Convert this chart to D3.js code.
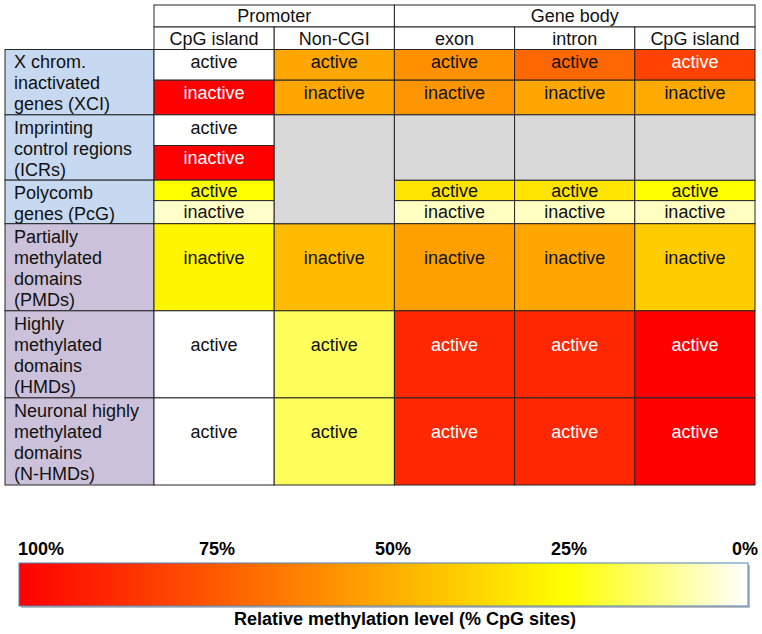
<!DOCTYPE html>
<html><head><meta charset="utf-8">
<script src="https://cdn.jsdelivr.net/npm/d3@7"></script>
<style>
body{margin:0;background:#fff}
svg{display:block}
text{font-family:"Liberation Sans",Arial,Helvetica,sans-serif}
</style>
</head><body>
<svg id="chart" width="762" height="634"></svg>
<script>
// ---------- data ----------
const columnLabels = ["CpG island","Non-CGI","exon","intron","CpG island"];
const groupLabels = ["Promoter","Gene body"];
const groupStart = [0,2];
const groupEnd = [1,4];

const regionLabels = [
  ["X chrom.","inactivated","genes (XCI)"],
  ["Imprinting","control regions","(ICRs)"],
  ["Polycomb","genes (PcG)"],
  ["Partially","methylated","domains","(PMDs)"],
  ["Highly","methylated","domains","(HMDs)"],
  ["Neuronal highly","methylated","domains","(N-HMDs)"]
];
const regionClass = ["gene","gene","gene","domain","domain","domain"];
const states = [
  ["active","inactive"],
  ["active","inactive"],
  ["active","inactive"],
  ["inactive"],
  ["active"],
  ["active"]
];
// relative methylation (% CpG sites) per region -> state -> column; null = not applicable
const methylation = [
  [[0,51,57,69,80],[100,51,56,51,50]],
  [[0,null,null,null,null],[100,null,null,null,null]],
  [[25,null,33,33,25],[5,null,6,6,6]],
  [[28,45,53,51,40]],
  [[0,16,88,88,100]],
  [[0,16,88,88,100]]
];
const legendTicks = [100,75,50,25,0];
const legendTickColors = ["#ff0000","#ff5200","#ffaa00","#ffff00","#ffffff"];
const legendTitle = "Relative methylation level (% CpG sites)";

// ---------- scales ----------
const svg = d3.select("#chart");
const color = d3.scaleLinear().domain(legendTicks).range(legendTickColors).interpolate(d3.interpolateRgb);
const x = d3.scaleBand().domain(d3.range(columnLabels.length)).range([154,755]);
const totalLines = d3.sum(regionLabels, d => d.length);
const y = d3.scaleLinear().domain([0,totalLines]).range([49.5,485]);
const lineColor = "#262626";
const gray = "#d9d9d9";
const regionFill = {gene:"#c6d9f1", domain:"#ccc1da"};

// build regions & subrows
let cum = 0;
const regions = regionLabels.map((lines,i) => {
  const r = {i, lines, y0:y(cum), y1:y(cum+lines.length)};
  cum += lines.length;
  return r;
});
const subrows = [];
regions.forEach(r => {
  const n = states[r.i].length;
  const h = r.y1 - r.y0;
  const split = n === 2 ? r.y0 + h*0.47 : r.y1;
  states[r.i].forEach((s,k) => {
    subrows.push({region:r.i, state:s, values:methylation[r.i][k],
      y0: k===0 ? r.y0 : split, y1: (k===0 && n===2) ? split : r.y1});
  });
});

// ---------- left labels ----------
const lab = svg.append("g");
lab.selectAll("rect").data(regions).join("rect")
  .attr("x",5).attr("width",x.range()[0]-5)
  .attr("y",d=>d.y0).attr("height",d=>d.y1-d.y0)
  .attr("fill",d=>regionFill[regionClass[d.i]])
  .attr("stroke",lineColor).attr("stroke-width",1);
regions.forEach(r => {
  lab.append("text").attr("x",14).attr("font-size",18).attr("fill","#111")
    .selectAll("tspan").data(r.lines).join("tspan")
    .attr("x",14).attr("y",(d,j)=>r.y0+12.5+j*21).attr("dy","0.35em").text(d=>d);
});

// ---------- cells ----------
const cells = [];
subrows.forEach(sr => sr.values.forEach((v,c) => { if (v !== null) cells.push({...sr, col:c, v}); }));
// merged gray blocks
const grays = [];
columnLabels.forEach((_,c) => {
  let cur = null;
  subrows.forEach(sr => {
    if (sr.values[c] === null) {
      if (cur && Math.abs(cur.y1 - sr.y0) < 0.01) cur.y1 = sr.y1;
      else { cur = {col:c, y0:sr.y0, y1:sr.y1}; grays.push(cur); }
    } else cur = null;
  });
});
const cg = svg.append("g");
cg.selectAll("rect.cell").data(cells).join("rect").attr("class","cell")
  .attr("x",d=>x(d.col)).attr("width",x.bandwidth())
  .attr("y",d=>d.y0).attr("height",d=>d.y1-d.y0)
  .attr("fill",d=>color(d.v)).attr("stroke",lineColor).attr("stroke-width",1);
cg.selectAll("rect.na").data(grays).join("rect").attr("class","na")
  .attr("x",d=>x(d.col)).attr("width",x.bandwidth())
  .attr("y",d=>d.y0).attr("height",d=>d.y1-d.y0)
  .attr("fill",gray).attr("stroke",lineColor).attr("stroke-width",1);
cg.selectAll("text").data(cells).join("text")
  .attr("x",d=>x(d.col)+x.bandwidth()/2)
  .attr("y",d=>{const h=d.y1-d.y0; return h>60 ? d.y0+h/2-10 : d.y0+Math.min(h/2,12.5);})
  .attr("dy","0.35em").attr("text-anchor","middle").attr("font-size",18)
  .attr("fill",d=>d.v>=75 ? "#ffffff" : "#111")
  .text(d=>d.state);

// ---------- headers ----------
const hg = svg.append("g");
hg.selectAll("rect.grp").data(groupLabels).join("rect").attr("class","grp")
  .attr("x",(d,i)=>x(groupStart[i])).attr("width",(d,i)=>x(groupEnd[i])+x.bandwidth()-x(groupStart[i]))
  .attr("y",5).attr("height",22).attr("fill","#fff").attr("stroke",lineColor);
hg.selectAll("text.grp").data(groupLabels).join("text").attr("class","grp")
  .attr("x",(d,i)=>(x(groupStart[i])+x(groupEnd[i])+x.bandwidth())/2)
  .attr("y",16).attr("dy","0.35em").attr("text-anchor","middle").attr("font-size",18).attr("fill","#111")
  .text(d=>d);
hg.selectAll("rect.col").data(columnLabels).join("rect").attr("class","col")
  .attr("x",(d,i)=>x(i)).attr("width",x.bandwidth())
  .attr("y",27).attr("height",22.5).attr("fill","#fff").attr("stroke",lineColor);
hg.selectAll("text.col").data(columnLabels).join("text").attr("class","col")
  .attr("x",(d,i)=>x(i)+x.bandwidth()/2)
  .attr("y",38.5).attr("dy","0.35em").attr("text-anchor","middle").attr("font-size",18).attr("fill","#111")
  .text(d=>d);

// ---------- legend ----------
const lg = svg.append("g");
const bar = {x0:19, x1:748, y0:563, y1:606};
const defs = svg.append("defs");
const grad = defs.append("linearGradient").attr("id","meth")
  .attr("gradientUnits","userSpaceOnUse")
  .attr("x1",bar.x0).attr("x2",bar.x1).attr("y1",0).attr("y2",0);
grad.selectAll("stop").data(legendTicks).join("stop")
  .attr("offset",d=>((100-d)/100)).attr("stop-color",d=>color(d));
lg.append("rect").attr("x",bar.x0+2).attr("y",bar.y0+2).attr("width",bar.x1-bar.x0).attr("height",bar.y1-bar.y0)
  .attr("fill","#bdbdbd");
lg.append("rect").attr("x",bar.x0).attr("y",bar.y0).attr("width",bar.x1-bar.x0).attr("height",bar.y1-bar.y0)
  .attr("fill","url(#meth)").attr("stroke","#4f81bd").attr("stroke-width",1);
const lx = d3.scaleLinear().domain([100,0]).range([41,745]);
lg.selectAll("text.tick").data(legendTicks).join("text").attr("class","tick")
  .attr("x",d=>lx(d)).attr("y",555).attr("text-anchor","middle")
  .attr("font-size",18).attr("font-weight","bold").attr("fill","#000")
  .text(d=>d+"%");
lg.append("text").attr("x",405).attr("y",625).attr("text-anchor","middle")
  .attr("font-size",18).attr("font-weight","bold").attr("fill","#000").text(legendTitle);
</script>
</body></html>
